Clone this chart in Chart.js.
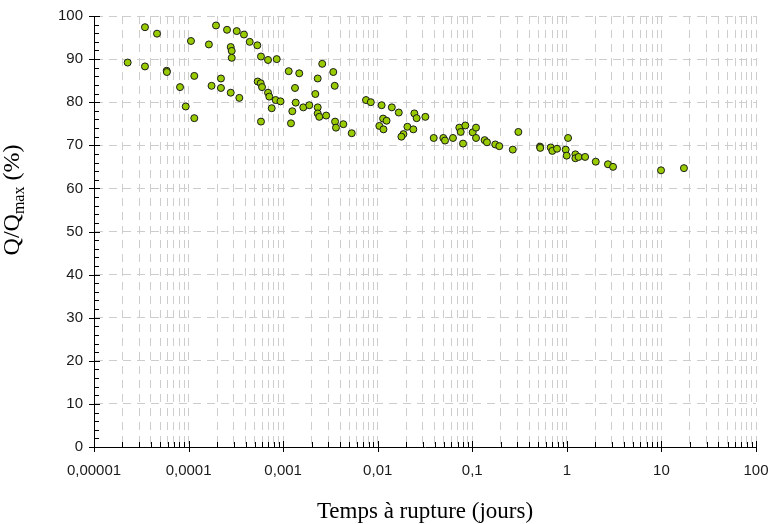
<!DOCTYPE html>
<html>
<head>
<meta charset="utf-8">
<script src="https://cdn.jsdelivr.net/npm/chart.js@4.4.1/dist/chart.umd.min.js"></script>
<style>
  body { margin: 0; background: #fff; }
  canvas { display: block; }
</style>
</head>
<body>
<canvas id="myChart_scatter" width="771" height="524"></canvas>
<script>
// temps à rupture (jours) and Q/Qmax (%)
const timeDays = [
  2.27e-5, 3.46e-5, 3.46e-5, 4.64e-5, 5.87e-5, 5.9e-5, 8.12e-5, 9.33e-5, 1.06e-4, 1.15e-4,
  1.15e-4, 1.64e-4, 1.95e-4, 1.75e-4, 2.2e-4, 2.2e-4, 2.55e-4, 2.79e-4, 2.86e-4, 2.86e-4,
  2.79e-4, 3.23e-4, 3.44e-4, 3.85e-4, 4.43e-4, 5.33e-4, 5.83e-4, 6.92e-4, 8.55e-4, 1.145e-3,
  1.48e-3, 2.59e-3, 3.39e-3, 2.32e-3, 3.51e-3, 5.38e-4, 5.79e-4, 5.98e-4, 6.92e-4, 7.14e-4,
  8.34e-4, 9.38e-4, 7.57e-4, 5.83e-4, 1.335e-3, 1.358e-3, 1.25e-3, 1.21e-3, 1.633e-3, 1.89e-3,
  2.19e-3, 2.32e-3, 2.32e-3, 2.41e-3, 2.85e-3, 3.54e-3, 3.62e-3, 4.33e-3, 5.31e-3, 7.52e-3,
  8.45e-3, 0.011, 0.0141, 0.0167, 0.0114, 0.0124, 0.0104, 0.0115, 0.0244, 0.0258,
  0.0319, 0.0206, 0.0238, 0.0187, 0.0178, 0.0391, 0.0494, 0.0515, 0.0625, 0.0729,
  0.0754, 0.0844, 0.0798, 0.101, 0.1095, 0.1095, 0.135, 0.143, 0.175, 0.193,
  0.268, 0.307, 0.52, 0.523, 0.675, 0.702, 0.787, 0.972, 1.03, 0.996,
  1.23, 1.23, 1.33, 1.56, 2.02, 2.72, 3.08, 9.9, 17.3
];
const ratioPct = [
  89.2, 97.4, 88.3, 95.9, 87.3, 87.0, 83.5, 79.0, 94.2, 86.1,
  76.3, 93.4, 97.8, 83.8, 85.5, 83.3, 96.8, 92.8, 91.9, 90.3,
  82.2, 96.5, 81.0, 95.7, 94.0, 93.2, 90.6, 89.8, 90.0, 87.2,
  86.7, 88.9, 87.0, 85.5, 83.8, 84.8, 84.4, 83.5, 82.2, 81.3,
  80.5, 80.2, 78.6, 75.5, 83.3, 79.9, 77.9, 75.1, 78.8, 79.3,
  81.9, 78.8, 77.4, 76.6, 76.9, 75.5, 74.1, 74.9, 72.8, 80.5,
  80.0, 79.3, 78.8, 77.6, 76.2, 75.7, 74.5, 73.7, 77.4, 76.3,
  76.6, 74.3, 73.7, 72.6, 72.0, 71.7, 71.7, 71.1, 71.7, 74.1,
  73.1, 74.6, 70.4, 73.0, 74.1, 71.7, 71.2, 70.7, 70.2, 69.8,
  69.0, 73.1, 69.7, 69.4, 69.5, 68.7, 69.2, 69.0, 71.7, 67.6,
  67.9, 67.0, 67.3, 67.3, 66.2, 65.6, 65.0, 64.2, 64.7
];

const xTickValues = [0.00001, 0.0001, 0.001, 0.01, 0.1, 1, 10, 100];
const xTickLabels = ['0,00001', '0,0001', '0,001', '0,01', '0,1', '1', '10', '100'];
const yMin = 0;
const yMax = 100;
const yStep = 2;      // minor ticks
const yLabelStep = 10; // labelled ticks + grid

const xTitle = 'Temps à rupture (jours)';

// 1..9 in every decade, major on the powers of ten
function buildLogTicks() {
  const ticks = [];
  for (let d = -5; d < 2; d++) {
    for (let m = 1; m <= 9; m++) {
      ticks.push({ value: Number((m * Math.pow(10, d)).toPrecision(3)), major: m === 1 });
    }
  }
  ticks.push({ value: 100, major: true });
  return ticks;
}

function labelForX(value) {
  for (let i = 0; i < xTickValues.length; i++) {
    if (Math.abs(Math.log10(value / xTickValues[i])) < 1e-6) return xTickLabels[i];
  }
  return '';
}

const gridGray = '#cdcdcd';
const tickFont = { family: '"Liberation Sans", Arial, sans-serif', size: 15 };

// tick marks crossing the axes + the two axis titles
const axisExtras = {
  id: 'axisExtras',
  afterDatasetsDraw(chart) {
    const { ctx, chartArea, scales } = chart;
    const xs = scales.x, ys = scales.y;
    ctx.save();
    ctx.strokeStyle = '#000';
    ctx.lineWidth = 1;
    ctx.beginPath();
    xs.ticks.forEach((t) => {
      const px = Math.round(xs.getPixelForValue(t.value)) + 0.5;
      const b = Math.round(chartArea.bottom);
      if (t.major) { ctx.moveTo(px, b - 6); ctx.lineTo(px, b + 5); }
      else { ctx.moveTo(px, b - 5); ctx.lineTo(px, b); }
    });
    ys.ticks.forEach((t) => {
      const py = Math.round(ys.getPixelForValue(t.value)) + 0.5;
      const l = Math.round(chartArea.left);
      if (t.value % yLabelStep === 0) { ctx.moveTo(l - 5, py); ctx.lineTo(l + 6, py); }
      else { ctx.moveTo(l, py); ctx.lineTo(l + 5, py); }
    });
    ctx.stroke();
    ctx.restore();
  },
  afterDraw(chart) {
    const { ctx } = chart;
    const serif = '"Liberation Serif", "Times New Roman", serif';
    ctx.save();
    ctx.fillStyle = '#000';
    ctx.textBaseline = 'alphabetic';

    // x title
    ctx.font = '23px ' + serif;
    ctx.textAlign = 'center';
    ctx.fillText(xTitle, 425, 518);

    // y title with subscript, rotated
    const big = '24px ' + serif, small = '16px ' + serif;
    const parts = [['Q/Q', big, 0], ['max', small, 5], [' (%)', big, 0]];
    let total = 0;
    parts.forEach((p) => { ctx.font = p[1]; total += ctx.measureText(p[0]).width; });
    ctx.translate(19, 200);
    ctx.rotate(-Math.PI / 2);
    ctx.textAlign = 'left';
    let cx = -total / 2;
    parts.forEach((p) => {
      ctx.font = p[1];
      ctx.fillText(p[0], cx, p[2]);
      cx += ctx.measureText(p[0]).width;
    });
    ctx.restore();
  }
};

const ctx = document.getElementById('myChart_scatter').getContext('2d');

new Chart(ctx, {
  type: 'scatter',
  data: {
    datasets: [{
      data: timeDays.map((t, i) => ({ x: t, y: ratioPct[i] })),
      backgroundColor: '#99cc00',
      borderColor: '#1a1a1a',
      borderWidth: 1,
      pointRadius: 3.5,
      pointHoverRadius: 3.5
    }]
  },
  options: {
    responsive: false,
    animation: false,
    layout: { padding: { top: 16, right: 15, left: 0, bottom: 0 } },
    plugins: { legend: { display: false }, tooltip: { enabled: false } },
    scales: {
      x: {
        type: 'logarithmic',
        min: 0.00001,
        max: 100,
        afterBuildTicks: (scale) => { scale.ticks = buildLogTicks(); },
        afterFit: (scale) => {
          scale.height = 77;
          scale.paddingLeft = 0;
          scale.paddingRight = 0;
        },
        grid: { color: gridGray, lineWidth: 1, drawTicks: false, tickLength: 0 },
        border: { display: true, color: '#000', width: 1, dash: [8, 6] },
        ticks: {
          autoSkip: false,
          maxRotation: 0,
          padding: 15,
          color: '#1a1a1a',
          font: tickFont,
          callback: (value, index, ticks) => (ticks[index].major ? labelForX(value) : '')
        }
      },
      y: {
        min: yMin,
        max: yMax,
        afterFit: (scale) => {
          scale.width = 94;
          scale.paddingTop = 0;
          scale.paddingBottom = 0;
        },
        grid: {
          color: (c) => (c.tick && c.tick.value % yLabelStep === 0 ? gridGray : 'rgba(0,0,0,0)'),
          lineWidth: 1,
          drawTicks: false,
          tickLength: 0
        },
        border: { display: true, color: '#000', width: 1, dash: [8, 6] },
        ticks: {
          stepSize: yStep,
          autoSkip: false,
          padding: 11,
          color: '#1a1a1a',
          font: tickFont,
          callback: (value) => (value % yLabelStep === 0 ? String(value) : '')
        }
      }
    }
  },
  plugins: [axisExtras]
});
</script>
</body>
</html>
